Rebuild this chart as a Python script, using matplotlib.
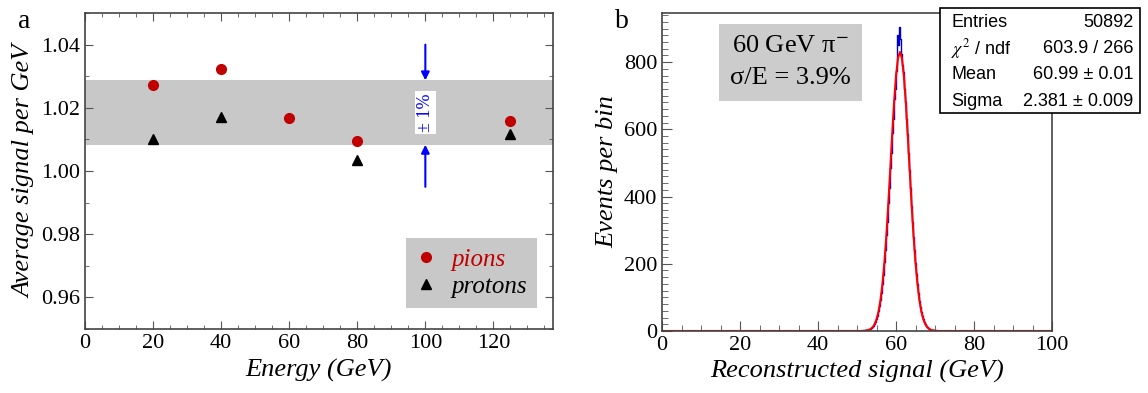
import matplotlib
matplotlib.use("Agg")
from matplotlib import pyplot as plt
from matplotlib.ticker import MultipleLocator
import numpy as np

plt.rcParams['font.family'] = ['Liberation Serif', 'DejaVu Serif']
plt.rcParams['mathtext.fontset'] = 'stix'

# panel a: average signal per GeV
energy_pi = [20, 40, 60, 80, 125]
signal_pi = [1.0271, 1.0322, 1.0167, 1.0094, 1.0158]
energy_p = [20, 40, 80, 125]
signal_p = [1.0101, 1.0170, 1.0035, 1.0117]
band_center = 1.0185

hist_x = [52.0, 52.25, 52.5, 52.75, 53.0, 53.25, 53.5, 53.75, 54.0, 54.25,
          54.5, 54.75, 55.0, 55.25, 55.5, 55.75, 56.0, 56.25, 56.5, 56.75,
          57.0, 57.25, 57.5, 57.75, 58.0, 58.25, 58.5, 58.75, 59.0, 59.25,
          59.5, 59.75, 60.0, 60.25, 60.5, 60.75, 61.0, 61.25, 61.5, 61.75,
          62.0, 62.25, 62.5, 62.75, 63.0, 63.25, 63.5, 63.75, 64.0, 64.25,
          64.5, 64.75, 65.0, 65.25, 65.5, 65.75, 66.0, 66.25, 66.5, 66.75,
          67.0, 67.25, 67.5, 67.75, 68.0, 68.25, 68.5, 68.75, 69.0, 69.25,
          69.5, 69.75]
hist_y = [1, 2, 2, 3, 3, 5, 6, 9, 11, 15,
          21, 27, 35, 45, 58, 73, 92, 113, 140, 168,
          205, 240, 285, 325, 380, 425, 485, 530, 590, 630,
          690, 720, 775, 800, 880, 850, 905, 870, 825, 790,
          770, 720, 680, 630, 585, 530, 478, 425, 372, 325,
          280, 240, 202, 170, 139, 113, 90, 72, 57, 45,
          35, 27, 20, 15, 11, 8, 6, 4, 3, 2,
          1, 1]

# gaussian fit curve
fit_x = [0, 50, 51, 52, 52.5, 53, 53.5, 54, 54.5, 55, 55.5, 56, 56.5, 57, 57.5,
         58, 58.5, 59, 59.5, 60, 60.5, 61, 61.5, 62, 62.5, 63, 63.5, 64,
         64.5, 65, 65.5, 66, 66.5, 67, 67.5, 68, 68.5, 69, 70, 71, 72, 100]
fit_y = [0, 0, 0, 1, 2, 3, 6, 11, 20, 35, 57, 91, 139, 202, 281,
         375, 478, 583, 681, 760, 812, 830, 812, 760, 681, 583, 478, 375,
         281, 202, 139, 91, 57, 35, 20, 11, 6, 3, 1, 0, 0, 0]

stat_names = ['Entries', r'$\chi^2$ / ndf', 'Mean', 'Sigma']
stat_values = ['50892', '603.9 / 266', '60.99 ± 0.01', '2.381 ± 0.009']

fig = plt.figure(figsize=(11.48, 3.93), dpi=100)

# ---------- panel a ----------
ax1 = fig.add_axes([0.0740, 0.1628, 0.4077, 0.804])
ax1.axhspan(band_center * 0.99, band_center * 1.01, color='#c8c8c8', lw=0, zorder=0)
ax1.plot(energy_pi, signal_pi, 'o', color='#c00000', ms=7, label='pions', zorder=3)
ax1.plot(energy_p, signal_p, '^', color='black', ms=7, label='protons', zorder=3)

ax1.annotate('', xy=(100, band_center * 1.01), xytext=(100, 1.040),
             arrowprops=dict(arrowstyle='-|>', color='blue', lw=1.5,
                             mutation_scale=12, shrinkA=0, shrinkB=0))
ax1.annotate('', xy=(100, band_center * 0.99), xytext=(100, 0.995),
             arrowprops=dict(arrowstyle='-|>', color='blue', lw=1.5,
                             mutation_scale=12, shrinkA=0, shrinkB=0))
ax1.text(100, band_center, '± 1%', rotation=90, color='blue', fontsize=13,
         ha='center', va='center',
         bbox=dict(facecolor='white', edgecolor='none', pad=1.5))

ax1.set_xlim(0, 137.5)
ax1.set_ylim(0.95, 1.05)
ax1.set_yticks([0.96, 0.98, 1.00, 1.02, 1.04])
ax1.set_yticklabels(['0.96', '0.98', '1.00', '1.02', '1.04'])
ax1.xaxis.set_major_locator(MultipleLocator(20))
ax1.xaxis.set_minor_locator(MultipleLocator(5))
ax1.yaxis.set_minor_locator(MultipleLocator(0.01))
ax1.tick_params(which='both', direction='in', top=True, right=True,
                labelsize=16, color='#555555')
ax1.tick_params(which='major', length=6)
ax1.tick_params(which='minor', length=3)
ax1.set_xlabel('Energy (GeV)', fontsize=19, style='italic')
ax1.set_ylabel('Average signal per GeV', fontsize=19, style='italic')
for s in ax1.spines.values():
    s.set_color('#444444')
    s.set_linewidth(1.2)

leg = ax1.legend(loc='lower right', bbox_to_anchor=(0.966, 0.066),
                 borderaxespad=0, frameon=True, fancybox=False,
                 facecolor='#c8c8c8', edgecolor='none', framealpha=1,
                 labelcolor='markerfacecolor', handlelength=0.8,
                 handletextpad=0.6, borderpad=0.4, labelspacing=0.2,
                 prop=dict(style='italic', size=18))

fig.text(0.016, 0.93, 'a', fontsize=20)

# ---------- panel b ----------
ax2 = fig.add_axes([0.5767, 0.1578, 0.3397, 0.809])
ax2.step(hist_x, hist_y, where='mid', color='#0000cc', lw=1.0)
ax2.plot(fit_x, fit_y, color='red', lw=1.5)
ax2.set_xlim(0, 100)
ax2.set_ylim(0, 946)
ax2.xaxis.set_major_locator(MultipleLocator(20))
ax2.xaxis.set_minor_locator(MultipleLocator(5))
ax2.yaxis.set_major_locator(MultipleLocator(200))
ax2.yaxis.set_minor_locator(MultipleLocator(20))
ax2.tick_params(which='both', direction='in', labelsize=16, color='#555555')
ax2.tick_params(which='major', length=7)
ax2.tick_params(which='minor', length=4)
ax2.set_xlabel('Reconstructed signal (GeV)', fontsize=19, style='italic')
ax2.set_ylabel('Events per bin', fontsize=19, style='italic')
for s in ax2.spines.values():
    s.set_color('#444444')
    s.set_linewidth(1.2)

ax2.text(0.33, 0.845, '60 GeV π$^{-}$\nσ/E = 3.9%', transform=ax2.transAxes,
         fontsize=19, ha='center', va='center', linespacing=1.6,
         bbox=dict(facecolor='#cccccc', edgecolor='none', pad=8))

fig.text(0.536, 0.93, 'b', fontsize=20)

# stats box
box_l, box_b, box_w, box_h = 940 / 1148, 1 - 113 / 393, 200 / 1148, 105 / 393
fig.patches.append(plt.Rectangle((box_l, box_b), box_w, box_h,
                                 transform=fig.transFigure, facecolor='white',
                                 edgecolor='black', lw=1.2, zorder=5))
for i, (name, val) in enumerate(zip(stat_names, stat_values)):
    yy = box_b + box_h - (i + 0.55) * box_h / 4
    fig.text(box_l + 0.010, yy, name, fontsize=13, family='Liberation Sans',
             va='center', ha='left', zorder=6)
    fig.text(box_l + box_w - 0.006, yy, val, fontsize=13,
             family='Liberation Sans', va='center', ha='right', zorder=6)

fig.savefig('out.png', dpi=100)
